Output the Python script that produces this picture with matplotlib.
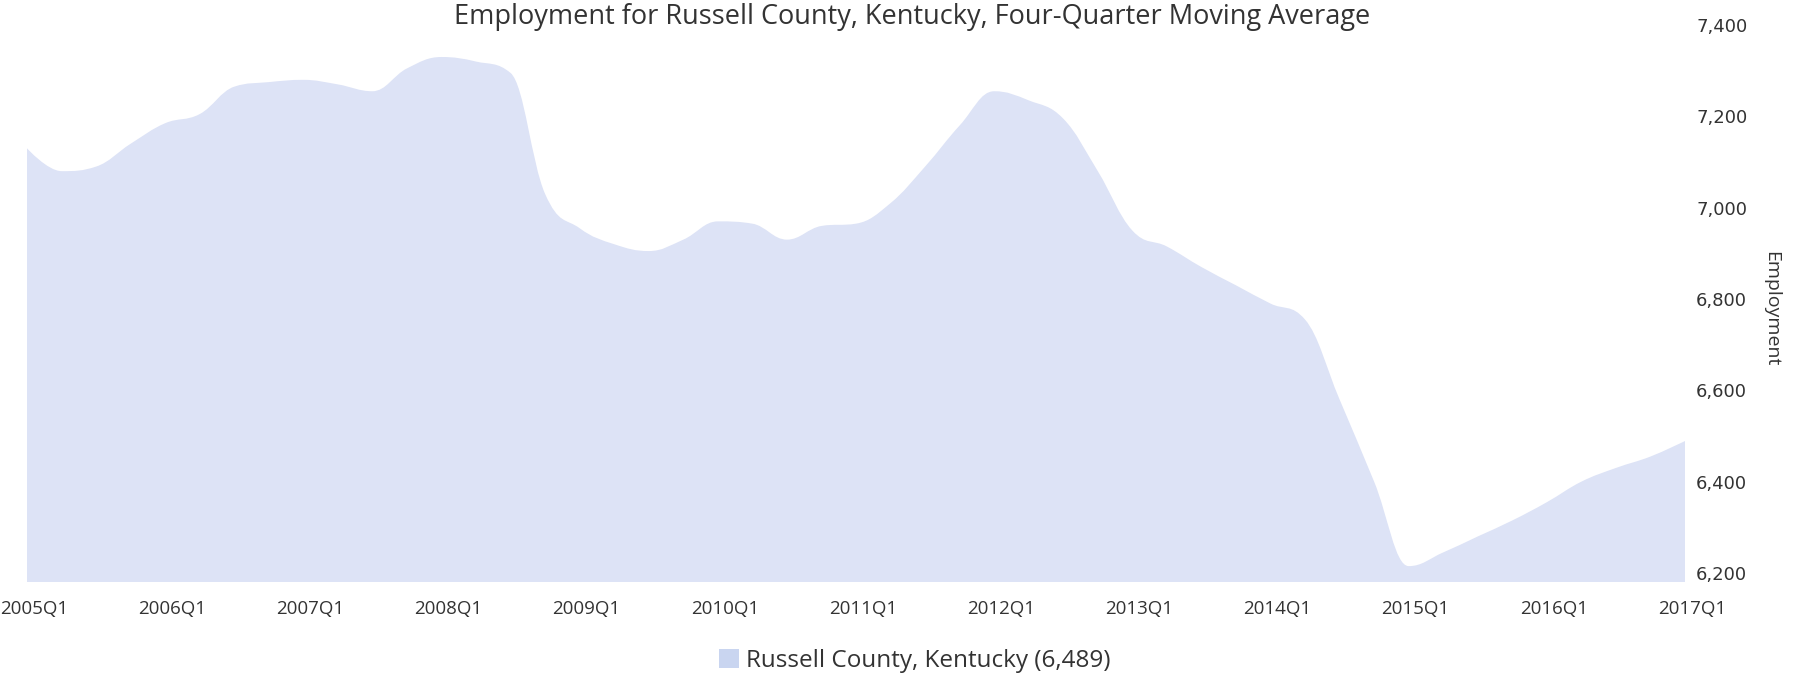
import matplotlib
matplotlib.use("Agg")
import matplotlib.pyplot as plt
from matplotlib.patches import Patch, PathPatch
from matplotlib.path import Path
from matplotlib.transforms import ScaledTranslation

# ---- data ----
quarters = [f"{y}Q{q}" for y in range(2005, 2018) for q in range(1, 5)][:49]
employment = [
    7130, 7080, 7090, 7140,   # 2005
    7185, 7205, 7265, 7275,   # 2006
    7280, 7270, 7255, 7305,   # 2007
    7330, 7320, 7295, 7030,   # 2008
    6955, 6920, 6905, 6930,   # 2009
    6970, 6965, 6930, 6960,   # 2010
    6965, 7010, 7090, 7180,   # 2011
    7255, 7235, 7195, 7080,   # 2012
    6950, 6915, 6870, 6830,   # 2013
    6790, 6755, 6580, 6400,   # 2014
    6215, 6245, 6280, 6315,   # 2015
    6355, 6400, 6430, 6455,   # 2016
    6489,                     # 2017
]
y_ticks = [6200, 6400, 6600, 6800, 7000, 7200, 7400]
title = "Employment for Russell County, Kentucky, Four-Quarter Moving Average"
series_name = "Russell County, Kentucky (6,489)"

FILL = "#dde3f6"
TEXT = "#333333"
BASE = 6180

fig = plt.figure(figsize=(17.94, 6.75), dpi=100)
W, H = 1794, 675
left_px, right_px = 27, 1685
top_px, bot_px = 15.9, 582.1
ax = fig.add_axes([left_px / W, 1 - bot_px / H, (right_px - left_px) / W, (bot_px - top_px) / H])

x = list(range(len(employment)))
y = employment
n = len(x)

# spline (Highcharts-like) area outline built from the data points
def controls(i):
    """left and right control points around point i"""
    xi, yi = x[i], y[i]
    if i == 0 or i == n - 1:
        return (xi, yi), (xi, yi)
    xp, yp, xn, yn = x[i - 1], y[i - 1], x[i + 1], y[i + 1]
    lx = xi - 0.4 * (xi - xp)
    rx = xi + 0.4 * (xn - xi)
    ly = yi - 0.4 * (yi - yp)
    ry = yi + 0.4 * (yn - yi)
    slope = (ry - ly) / (rx - lx)
    ly = yi - slope * (xi - lx)
    ry = yi + slope * (rx - xi)
    # avoid overshoot
    if (ly > max(yp, yi)) or (ly < min(yp, yi)):
        ly = max(min(ly, max(yp, yi)), min(yp, yi))
        ry = 2 * yi - ly
    if (ry > max(yn, yi)) or (ry < min(yn, yi)):
        ry = max(min(ry, max(yn, yi)), min(yn, yi))
        ly = 2 * yi - ry
    return (lx, ly), (rx, ry)

verts = [(x[0], BASE), (x[0], y[0])]
codes = [Path.MOVETO, Path.LINETO]
ctrl = [controls(i) for i in range(n)]
for i in range(n - 1):
    verts += [ctrl[i][1], ctrl[i + 1][0], (x[i + 1], y[i + 1])]
    codes += [Path.CURVE4] * 3
verts += [(x[-1], BASE), (x[0], BASE)]
codes += [Path.LINETO, Path.CLOSEPOLY]
ax.add_patch(PathPatch(Path(verts, codes), facecolor=FILL, edgecolor="none", linewidth=0))

ax.set_xlim(0, n - 1)
ax.set_ylim(BASE, 7420)

for s in ax.spines.values():
    s.set_visible(False)

ax.set_xticks(x[::4])
ax.set_xticklabels(quarters[::4], fontsize=13.5, family="Open Sans", color=TEXT)
ax.tick_params(axis="x", length=0, pad=13)
shift = ScaledTranslation(7 / 100, 0, fig.dpi_scale_trans)
for lab in ax.get_xticklabels():
    lab.set_transform(lab.get_transform() + shift)

ax.yaxis.tick_right()
ax.set_yticks(y_ticks)
ax.set_yticklabels([f"{v:,}" for v in y_ticks], fontsize=13, family="DejaVu Sans", color=TEXT)
ax.tick_params(axis="y", length=0, pad=8)

fig.text(1771 / W, 1 - 309 / H, "Employment", rotation=270, ha="center", va="center",
         fontsize=14, family="Open Sans", color=TEXT)

fig.text(912 / W, 1 - 17 / H, title, ha="center", va="center",
         fontsize=19.5, family="Open Sans", color=TEXT)

handle = Patch(facecolor="#c9d5f0", edgecolor="none")
fig.legend([handle], [series_name], loc="center", bbox_to_anchor=(915 / W, 1 - 661 / H),
           frameon=False, prop={"family": "Open Sans", "size": 17.5}, handlelength=0.8,
           handleheight=0.8, handletextpad=0.3, labelcolor=TEXT)

fig.savefig("out.png", dpi=100)
